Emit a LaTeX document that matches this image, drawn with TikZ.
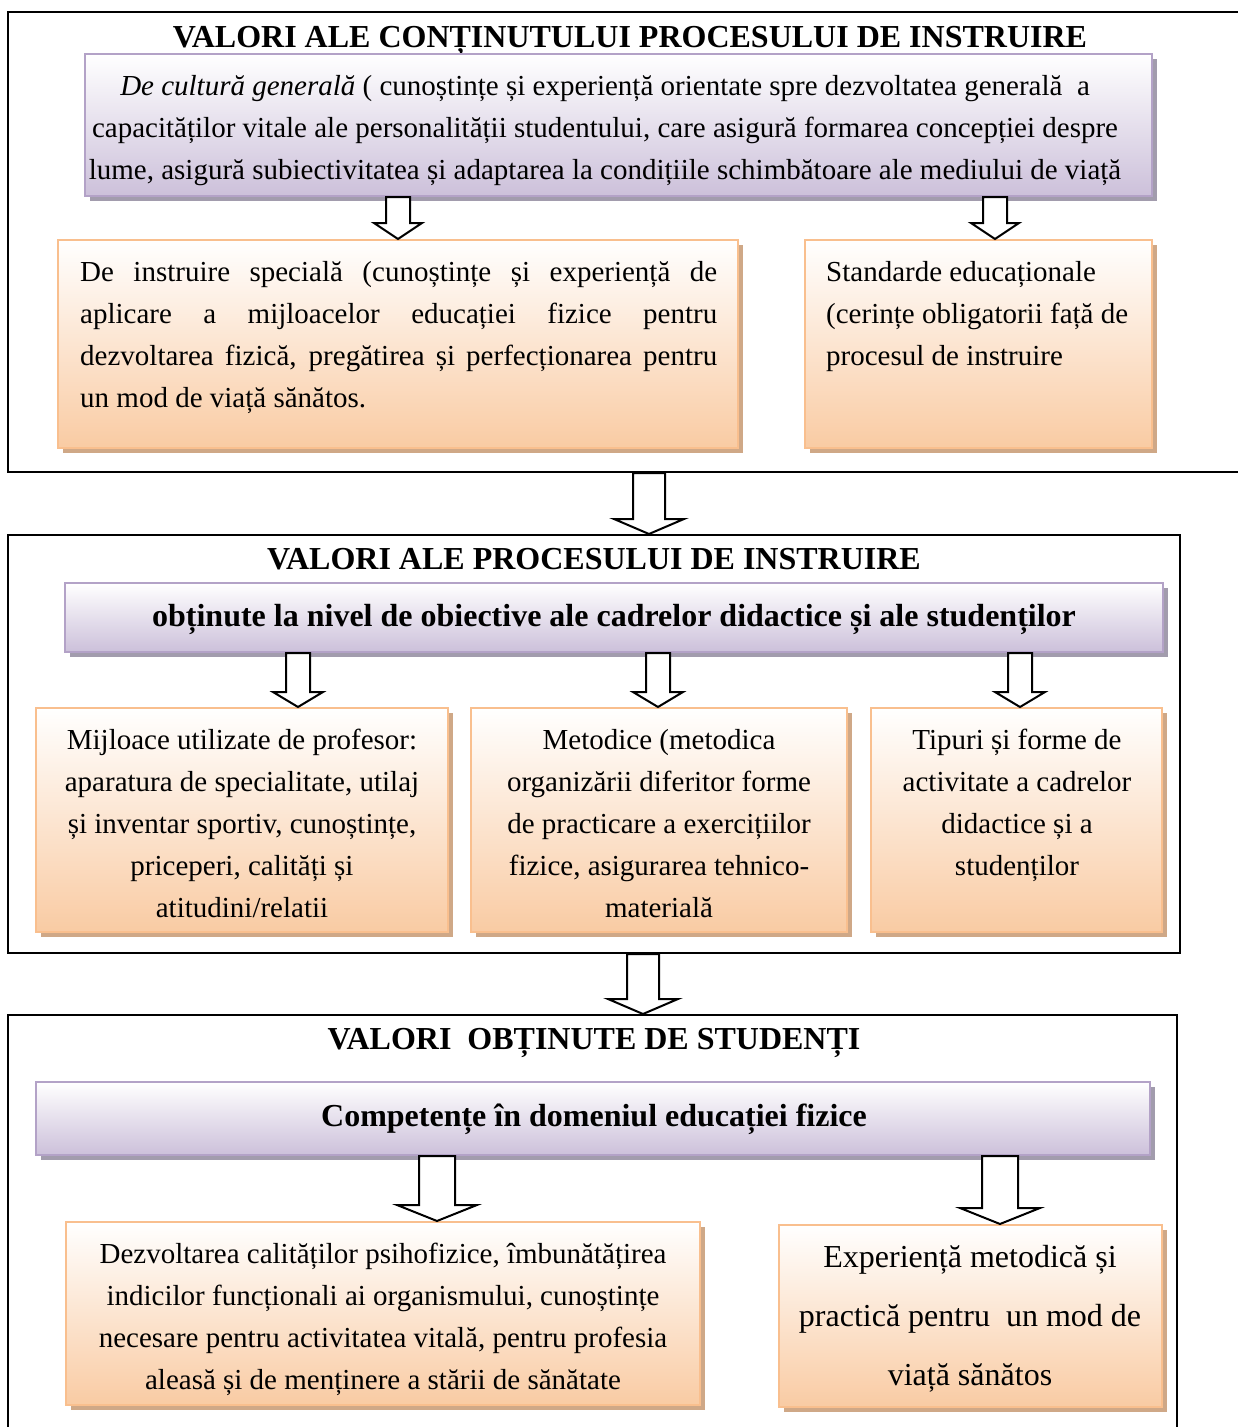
\documentclass[tikz,border=0pt]{standalone}
\usepackage{fontspec}
\setmainfont{Liberation Serif}
\usetikzlibrary{calc}
\definecolor{pborder}{HTML}{B3A2C7}
\definecolor{pbottom}{HTML}{CCC0DA}
\definecolor{pshadowc}{HTML}{A29CAD}
\definecolor{oborder}{HTML}{F9BF8E}
\definecolor{obottom}{HTML}{F9CBA3}
\definecolor{oshadowc}{HTML}{CFA887}
\tikzset{
 pbox/.style={draw=pborder, line width=2pt, top color=white, middle color=pbottom!70, bottom color=pbottom, inner sep=0pt},
 obox/.style={draw=oborder, line width=2pt, top color=white, middle color=obottom!65, bottom color=obottom, inner sep=0pt},
 pboxshadow/.style={fill=pshadowc},
 oboxshadow/.style={fill=oshadowc},
 outerbox/.style={draw=black, line width=2pt, inner sep=0pt},
 arrowline/.style={draw=black, line width=2pt, fill=white, line join=miter},
 title/.style={font=\fontsize{32}{38}\selectfont\bfseries, inner sep=0pt, anchor=base},
 body/.style={font=\fontsize{29}{42}\selectfont, inner sep=0pt, anchor=base},
 bodyb/.style={font=\fontsize{32}{42}\selectfont\bfseries, inner sep=0pt, anchor=base},
}
\newcommand\shadedbox[6]{%
 \fill[#1shadow] ({#3+5},{#4+5}) rectangle ({#5+5},{#6+5});
 \node[#1, minimum width={#5-#3}, minimum height={#6-#4}] (#2) at ({(#3+#5)/2},{(#4+#6)/2}) {};}
\newcommand\blockarr[6]{%
 \draw[arrowline] let \p1=(#1.south), \p2=(#2.north) in
 ({#3-#4},\y1) -- ({#3-#4},\y2+#6) -- ({#3-#5},\y2+#6) -- (#3,\y2) -- ({#3+#5},\y2+#6) -- ({#3+#4},\y2+#6) -- ({#3+#4},\y1) -- cycle;}
\newcommand\jline[1]{\makebox[637pt][s]{#1}}
\begin{document}
\begin{tikzpicture}[x=1pt,y=-1pt]
\useasboundingbox (0,0) rectangle (1238,1427);
\fill[white] (0,0) rectangle (1238,1427);
% outer boxes
\node[outerbox, minimum width=1252, minimum height=460] (B1) at (634,242) {};
\node[outerbox, minimum width=1172, minimum height=418] (B2) at (594,744) {};
\node[outerbox, minimum width=1169, minimum height=430] (B3) at (592.5,1230) {};
% titles
\node[title] (T1) at (630,47) {VALORI ALE CONȚINUTULUI PROCESULUI DE INSTRUIRE};
\node[title] (T2) at (594,569) {VALORI ALE PROCESULUI DE INSTRUIRE};
\node[title] (T3) at (594,1049) {VALORI\ \ OBȚINUTE DE STUDENȚI};
% section 1
\shadedbox{pbox}{P1}{85}{54}{1152}{196}
\node[body, align=center] (P1t) at (605,179) {\textit{De cultură generală} ( cunoștințe și experiență orientate spre dezvoltatea generală\ \ a\\ capacităților vitale ale personalității studentului, care asigură formarea concepției despre\\ lume, asigură subiectivitatea și adaptarea la condițiile schimbătoare ale mediului de viață};
\shadedbox{obox}{O11}{58}{240}{738}{448}
\shadedbox{obox}{O12}{805}{240}{1152}{448}
\node[body, align=left, anchor=base west] (O11t) at (80,407) {\jline{De instruire specială (cunoștințe și experiență de}\\ \jline{aplicare a mijloacelor educației fizice pentru}\\ \jline{dezvoltarea fizică, pregătirea și perfecționarea pentru}\\ un mod de viață sănătos.};
\node[body, align=left, anchor=base west] (O12t) at (826,365) {Standarde educaționale\\ (cerințe obligatorii față de\\ procesul de instruire};
\blockarr{P1}{O11}{398}{12}{24}{16}
\blockarr{P1}{O12}{995}{12}{24}{16}
% big arrow 1-2
\blockarr{B1}{B2}{649}{16}{35}{15}
% section 2
\shadedbox{pbox}{P2}{65}{583}{1163}{652}
\node[bodyb] (P2t) at (614,626) {obținute la nivel de obiective ale cadrelor didactice și ale studenților};
\shadedbox{obox}{O21}{36}{708}{448}{932}
\shadedbox{obox}{O22}{471}{708}{847}{932}
\shadedbox{obox}{O23}{871}{708}{1162}{932}
\node[body, align=center] (O21t) at (242,917) {Mijloace utilizate de profesor:\\ aparatura de specialitate, utilaj\\ și inventar sportiv, cunoștințe,\\ priceperi, calități și\\ atitudini/relatii};
\node[body, align=center] (O22t) at (659,917) {Metodice (metodica\\ organizării diferitor forme\\ de practicare a exercițiilor\\ fizice, asigurarea tehnico-\\ materială};
\node[body, align=center] (O23t) at (1017,875) {Tipuri și forme de\\ activitate a cadrelor\\ didactice și a\\ studenților};
\blockarr{P2}{O21}{298}{12}{25}{15}
\blockarr{P2}{O22}{658}{12}{25}{15}
\blockarr{P2}{O23}{1020}{12}{25}{15}
% big arrow 2-3
\blockarr{B2}{B3}{643}{16}{35}{15}
% section 3
\shadedbox{pbox}{P3}{36}{1082}{1150}{1155}
\node[bodyb] (P3t) at (594,1126) {Competențe în domeniul educației fizice};
\shadedbox{obox}{O31}{66}{1222}{700}{1405}
\shadedbox{obox}{O32}{779}{1225}{1162}{1407}
\node[body, align=center] (O31t) at (383,1389) {Dezvoltarea calităților psihofizice, îmbunătățirea\\ indicilor funcționali ai organismului, cunoștințe\\ necesare pentru activitatea vitală, pentru profesia\\ aleasă și de menținere a stării de sănătate};
\node[font=\fontsize{32}{59}\selectfont, inner sep=0pt, anchor=base, align=center] (O32t) at (970,1385) {Experiență metodică și\\ practică pentru\ \ un mod de\\ viață sănătos};
\blockarr{P3}{O31}{437}{18}{40}{16}
\blockarr{P3}{O32}{1000}{18}{40}{16}
\end{tikzpicture}
\end{document}
